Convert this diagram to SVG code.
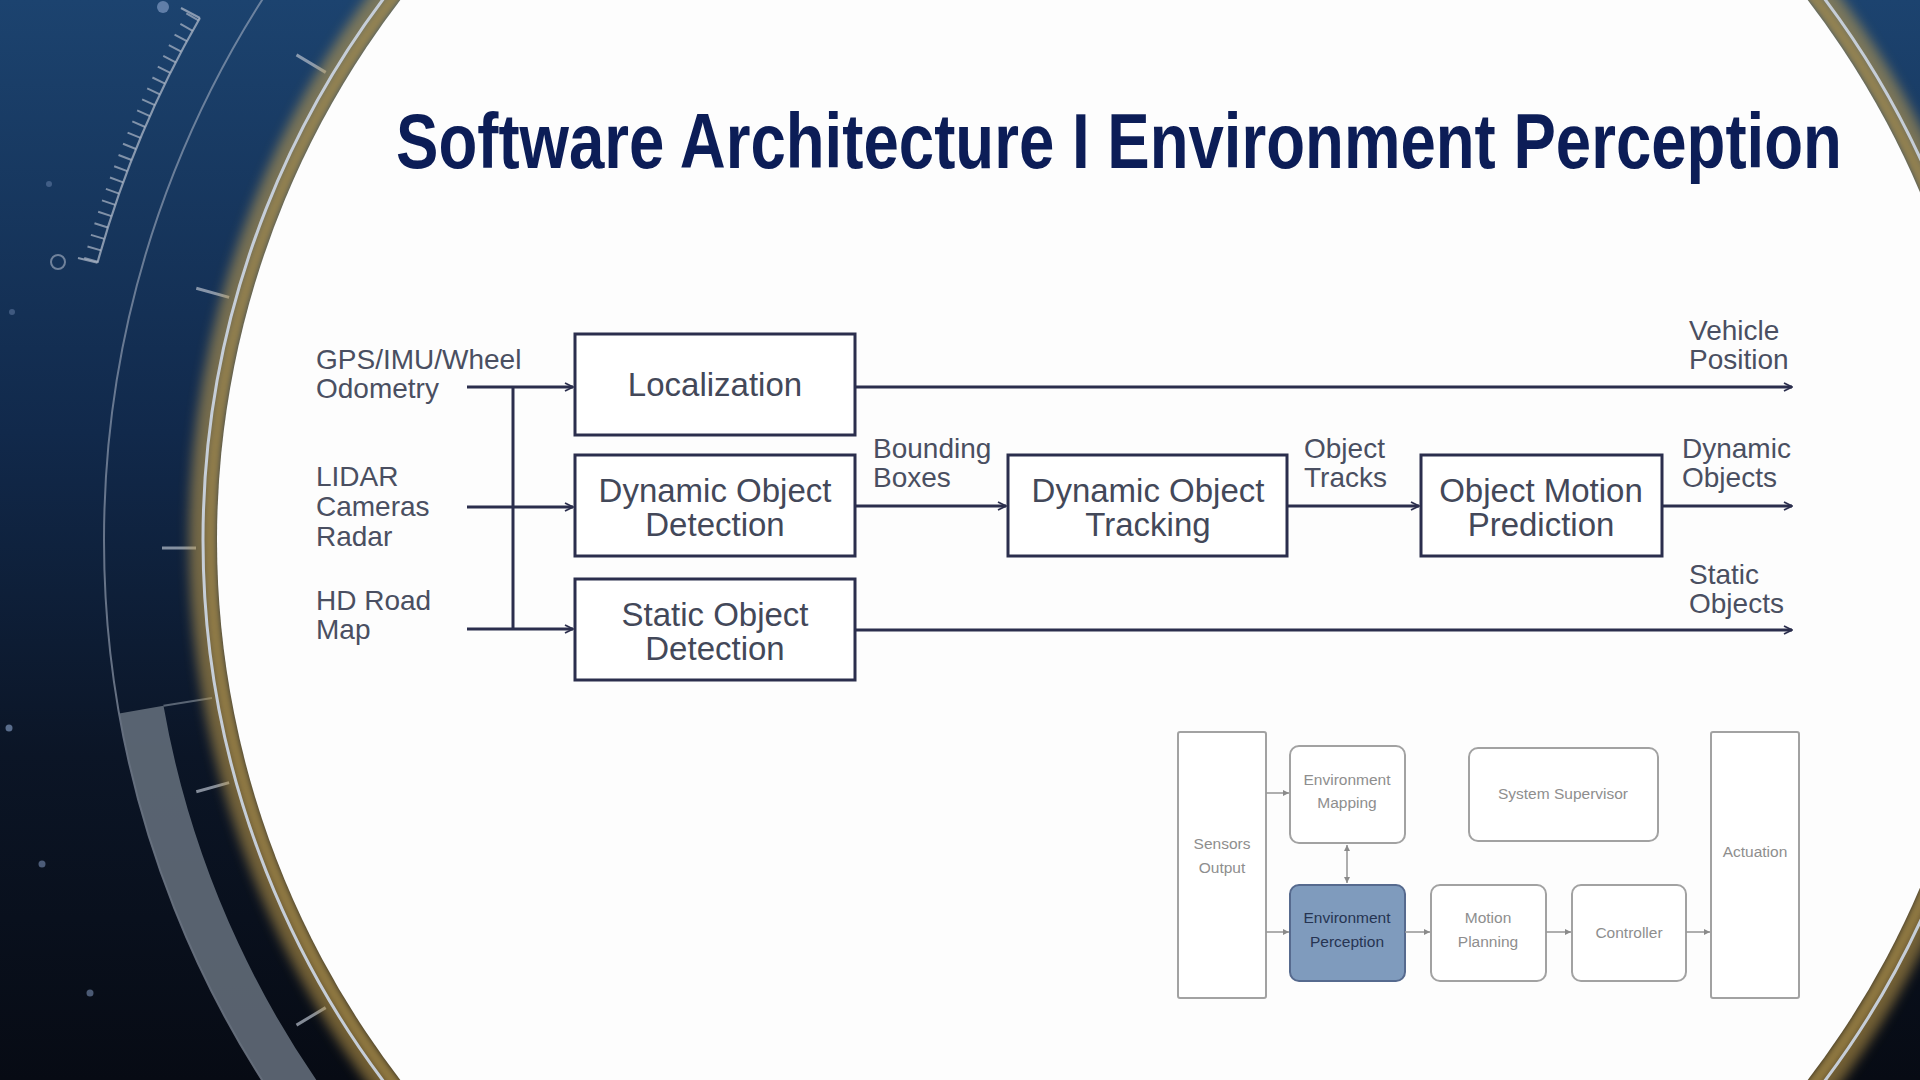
<svg xmlns="http://www.w3.org/2000/svg" width="1920" height="1080" viewBox="0 0 1920 1080">
  <defs>
    <style>
      .title { font-family: "Liberation Sans", Arial, sans-serif; font-weight: bold; font-size: 77px; fill: #0c1d57; }
      .lbl { font-family: "Liberation Sans", Arial, sans-serif; font-size: 28px; fill: #4a4f61; }
      .box { fill: #ffffff; stroke: #2b2e4d; stroke-width: 3; }
      .boxtxt { font-family: "Liberation Sans", Arial, sans-serif; font-size: 33px; fill: #434859; text-anchor: middle; }
      .wire { fill: none; stroke: #2b2e4d; stroke-width: 3; }
      .mbox { fill: #ffffff; stroke: #a2a2a2; stroke-width: 2; }
      .mtxt { font-family: "Liberation Sans", Arial, sans-serif; font-size: 15.5px; fill: #8e8e8e; text-anchor: middle; }
      .mtxt-on { font-family: "Liberation Sans", Arial, sans-serif; font-size: 15.5px; fill: #263452; text-anchor: middle; }
      .mwire { fill: none; stroke: #9a9a9a; stroke-width: 1.6; }
      .ring { fill: none; stroke: #aeb8c8; }
    </style>
    <linearGradient id="bg" x1="0" y1="0" x2="0" y2="1">
      <stop offset="0" stop-color="#1c436f"/>
      <stop offset="0.4" stop-color="#11294b"/>
      <stop offset="0.7" stop-color="#0b1526"/>
      <stop offset="1" stop-color="#070b14"/>
    </linearGradient>
    <filter id="blur6" x="-10%" y="-10%" width="120%" height="120%">
      <feGaussianBlur stdDeviation="6"/>
    </filter>
    <filter id="blur2" x="-10%" y="-10%" width="120%" height="120%">
      <feGaussianBlur stdDeviation="2"/>
    </filter>
    <marker id="arr" viewBox="0 0 10 10" refX="9" refY="5" markerWidth="10" markerHeight="10" markerUnits="userSpaceOnUse" orient="auto">
      <path d="M1,1 L9,5 L1,9" fill="none" stroke="#2b2e4d" stroke-width="1.8"/>
    </marker>
    <marker id="marr" viewBox="0 0 6 6" refX="6" refY="3" markerWidth="6" markerHeight="6" markerUnits="userSpaceOnUse" orient="auto-start-reverse">
      <path d="M0,0 L6,3 L0,6 Z" fill="#8a8a8a"/>
    </marker>
  </defs>

  <!-- dark backdrop with the dial rings -->
  <g id="backdrop">
    <rect x="0" y="0" width="1920" height="1080" fill="url(#bg)"/>
    <!-- outer thin ring -->
    <circle cx="1104" cy="540" r="1000" class="ring" stroke-width="2" opacity="0.55"/>
    <!-- grey band, lower left -->
    <path d="M119.2,713.6 A1000,1000 0 0 0 338,1182.8 L372.5,1153.9 A955,955 0 0 1 163.5,705.8 Z" fill="#66717e" opacity="0.85"/>
    <line x1="163.5" y1="705.8" x2="212" y2="698" stroke="#7a8592" stroke-width="2" opacity="0.7"/>
    <!-- ruler, upper left -->
    <path d="M97.5,262.7 A1044,1044 0 0 1 199.9,18" class="ring" stroke-width="2.2" opacity="0.75"/>
    <path d="M90.7,260.9 A1051,1051 0 0 1 193.8,14.5" fill="none" stroke="#aeb8c8" stroke-width="14" stroke-dasharray="2 10" opacity="0.7"/>
    <line x1="97.5" y1="262.7" x2="78" y2="258" stroke="#aeb8c8" stroke-width="2.2" opacity="0.75"/>
    <line x1="199.9" y1="18" x2="181" y2="8" stroke="#aeb8c8" stroke-width="2.2" opacity="0.75"/>
    <circle cx="58" cy="262" r="7" fill="none" stroke="#aeb8c8" stroke-width="2" opacity="0.6"/>
    <!-- long ticks between ring and rim -->
    <g stroke="#b8c0cc" stroke-width="3" opacity="0.7">
      <line x1="325.7" y1="72.4" x2="296.5" y2="54.9"/>
      <line x1="229.1" y1="297.4" x2="196.3" y2="288.3"/>
      <line x1="196" y1="548" x2="162" y2="548"/>
      <line x1="229.1" y1="782.6" x2="196.3" y2="791.7"/>
      <line x1="325.7" y1="1007.6" x2="296.5" y2="1025.1"/>
    </g>
    <!-- faint dots -->
    <g fill="#8ea6cf">
      <circle cx="163" cy="7" r="6" opacity="0.6"/>
      <circle cx="49" cy="184" r="3" opacity="0.35"/>
      <circle cx="12" cy="312" r="3" opacity="0.35"/>
      <circle cx="9" cy="728" r="3.5" opacity="0.6"/>
      <circle cx="42" cy="864" r="3.5" opacity="0.5"/>
      <circle cx="90" cy="993" r="3.5" opacity="0.5"/>
    </g>
    <!-- golden rim, bright line and the white disc -->
    <circle cx="1104" cy="540" r="900" fill="none" stroke="#c9a34d" stroke-width="30" opacity="0.55" filter="url(#blur6)"/>
    <circle cx="1104" cy="540" r="893" fill="none" stroke="#a88d4c" stroke-width="10" opacity="0.55" filter="url(#blur2)"/>
    <circle cx="1104" cy="540" r="901" fill="none" stroke="#c6ced8" stroke-width="3"/>
    <circle cx="1104" cy="540" r="887" fill="#fdfdfd"/>
  </g>

  <text class="title" transform="translate(396,168) scale(0.705,1)" x="0" y="0" textLength="2051" lengthAdjust="spacingAndGlyphs">Software Architecture I Environment Perception</text>

  <!-- input labels -->
  <g id="in-gps">
    <text class="lbl" x="316" y="369">GPS/IMU/Wheel</text>
    <text class="lbl" x="316" y="398">Odometry</text>
  </g>
  <g id="in-sensors">
    <text class="lbl" x="316" y="486">LIDAR</text>
    <text class="lbl" x="316" y="516">Cameras</text>
    <text class="lbl" x="316" y="546">Radar</text>
  </g>
  <g id="in-map">
    <text class="lbl" x="316" y="610">HD Road</text>
    <text class="lbl" x="316" y="639">Map</text>
  </g>

  <!-- processing blocks -->
  <g id="localization">
    <rect class="box" x="575" y="334" width="280" height="101"/>
    <text class="boxtxt" x="715" y="396">Localization</text>
  </g>
  <g id="dyn-detection">
    <rect class="box" x="575" y="455" width="280" height="101"/>
    <text class="boxtxt" x="715" y="502">Dynamic Object</text>
    <text class="boxtxt" x="715" y="536">Detection</text>
  </g>
  <g id="static-detection">
    <rect class="box" x="575" y="579" width="280" height="101"/>
    <text class="boxtxt" x="715" y="626">Static Object</text>
    <text class="boxtxt" x="715" y="660">Detection</text>
  </g>
  <g id="dyn-tracking">
    <rect class="box" x="1008" y="455" width="279" height="101"/>
    <text class="boxtxt" x="1148" y="502">Dynamic Object</text>
    <text class="boxtxt" x="1148" y="536">Tracking</text>
  </g>
  <g id="motion-prediction">
    <rect class="box" x="1421" y="455" width="241" height="101"/>
    <text class="boxtxt" x="1541" y="502">Object Motion</text>
    <text class="boxtxt" x="1541" y="536">Prediction</text>
  </g>

  <!-- flow labels -->
  <g id="lbl-bbox">
    <text class="lbl" x="873" y="458">Bounding</text>
    <text class="lbl" x="873" y="487">Boxes</text>
  </g>
  <g id="lbl-tracks">
    <text class="lbl" x="1304" y="458">Object</text>
    <text class="lbl" x="1304" y="487">Tracks</text>
  </g>
  <g id="out-vehicle">
    <text class="lbl" x="1689" y="340">Vehicle</text>
    <text class="lbl" x="1689" y="369">Position</text>
  </g>
  <g id="out-dynamic">
    <text class="lbl" x="1682" y="458">Dynamic</text>
    <text class="lbl" x="1682" y="487">Objects</text>
  </g>
  <g id="out-static">
    <text class="lbl" x="1689" y="584">Static</text>
    <text class="lbl" x="1689" y="613">Objects</text>
  </g>

  <g id="connectors">
    <path class="wire" d="M467,387 H573" marker-end="url(#arr)"/>
    <path class="wire" d="M467,507 H573" marker-end="url(#arr)"/>
    <path class="wire" d="M467,629 H573" marker-end="url(#arr)"/>
    <path class="wire" d="M513,387 V629"/>
    <path class="wire" d="M855,387 H1792" marker-end="url(#arr)"/>
    <path class="wire" d="M855,506 H1006" marker-end="url(#arr)"/>
    <path class="wire" d="M1287,506 H1419" marker-end="url(#arr)"/>
    <path class="wire" d="M1662,506 H1792" marker-end="url(#arr)"/>
    <path class="wire" d="M855,630 H1792" marker-end="url(#arr)"/>
  </g>

  <!-- overview of the full stack -->
  <g id="m-sensors">
    <rect class="mbox" x="1178" y="732" width="88" height="266" rx="2"/>
    <text class="mtxt" x="1222" y="849">Sensors</text>
    <text class="mtxt" x="1222" y="873">Output</text>
  </g>
  <g id="m-mapping">
    <rect class="mbox" x="1290" y="746" width="115" height="97" rx="9"/>
    <text class="mtxt" x="1347" y="785">Environment</text>
    <text class="mtxt" x="1347" y="808">Mapping</text>
  </g>
  <g id="m-supervisor">
    <rect class="mbox" x="1469" y="748" width="189" height="93" rx="9"/>
    <text class="mtxt" x="1563" y="799">System Supervisor</text>
  </g>
  <g id="m-perception">
    <rect x="1290" y="885" width="115" height="96" rx="9" fill="#7f9bbd" stroke="#566a8e" stroke-width="2"/>
    <text class="mtxt-on" x="1347" y="923">Environment</text>
    <text class="mtxt-on" x="1347" y="947">Perception</text>
  </g>
  <g id="m-planning">
    <rect class="mbox" x="1431" y="885" width="115" height="96" rx="9"/>
    <text class="mtxt" x="1488" y="923">Motion</text>
    <text class="mtxt" x="1488" y="947">Planning</text>
  </g>
  <g id="m-controller">
    <rect class="mbox" x="1572" y="885" width="114" height="96" rx="9"/>
    <text class="mtxt" x="1629" y="938">Controller</text>
  </g>
  <g id="m-actuation">
    <rect class="mbox" x="1711" y="732" width="88" height="266" rx="2"/>
    <text class="mtxt" x="1755" y="857">Actuation</text>
  </g>

  <g id="m-connectors">
    <path class="mwire" d="M1266,793 H1289" marker-end="url(#marr)"/>
    <path class="mwire" d="M1266,932 H1289" marker-end="url(#marr)"/>
    <path class="mwire" d="M1347,845 V883" marker-start="url(#marr)" marker-end="url(#marr)"/>
    <path class="mwire" d="M1405,932 H1430" marker-end="url(#marr)"/>
    <path class="mwire" d="M1546,932 H1571" marker-end="url(#marr)"/>
    <path class="mwire" d="M1686,932 H1710" marker-end="url(#marr)"/>
  </g>
</svg>
